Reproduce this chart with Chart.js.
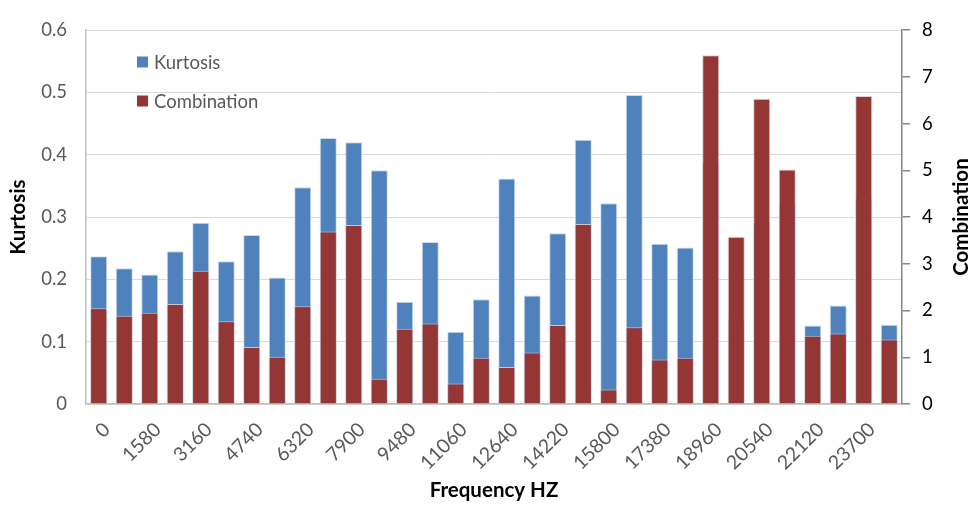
<!DOCTYPE html>
<html>
<head>
<meta charset="utf-8">
<script src="https://cdn.jsdelivr.net/npm/chart.js@4"></script>
<style>
  html, body { margin: 0; padding: 0; background: #fff; }
  #wrap { width: 976px; height: 505px; position: relative; }
</style>
</head>
<body>
<div id="wrap"><canvas id="c" width="976" height="505"></canvas></div>
<script>
// Frequency bins (Hz), 790 Hz apart
const frequencies = [0, 790, 1580, 2370, 3160, 3950, 4740, 5530, 6320, 7110, 7900, 8690,
  9480, 10270, 11060, 11850, 12640, 13430, 14220, 15010, 15800, 16590, 17380, 18170,
  18960, 19750, 20540, 21330, 22120, 22910, 23700, 24490];

// Kurtosis per bin (left axis)
const kurtosis = [0.237, 0.218, 0.208, 0.245, 0.291, 0.229, 0.271, 0.203, 0.348, 0.427, 0.420, 0.375,
  0.164, 0.260, 0.116, 0.168, 0.362, 0.174, 0.274, 0.424, 0.322, 0.496, 0.257, 0.251,
  0.388, 0.135, 0.290, 0.320, 0.126, 0.158, 0.330, 0.127];

// Combination measure per bin (right axis)
const combination = [2.05, 1.89, 1.95, 2.14, 2.85, 1.77, 1.22, 1.01, 2.09, 3.69, 3.83, 0.54,
  1.61, 1.72, 0.44, 0.99, 0.79, 1.10, 1.69, 3.85, 0.31, 1.64, 0.95, 0.99,
  7.46, 3.58, 6.53, 5.02, 1.46, 1.51, 6.59, 1.38];

const kurtosisTicks = [0, 0.1, 0.2, 0.3, 0.4, 0.5, 0.6];
const combinationTicks = [0, 1, 2, 3, 4, 5, 6, 7, 8];

const BLUE = '#4f81bd';
const RED = '#943634';
const FONT = 'Lato, "Open Sans", sans-serif';

// Legend inside the plot area (upper left) and the right-hand axis title,
// which reads bottom-to-top like the left one
const extras = {
  id: 'extras',
  afterDraw(chart) {
    const ctx = chart.ctx;
    const items = [
      { text: 'Kurtosis', color: BLUE, y: 62 },
      { text: 'Combination', color: RED, y: 101 }
    ];
    ctx.save();
    ctx.font = '18.5px ' + FONT;
    ctx.textBaseline = 'middle';
    ctx.textAlign = 'left';
    items.forEach(it => {
      ctx.fillStyle = it.color;
      ctx.fillRect(137, it.y - 5.5, 11, 11);
      ctx.fillStyle = '#595959';
      ctx.fillText(it.text, 154, it.y + 1);
    });
    const area = chart.chartArea;
    ctx.translate(961, (area.top + area.bottom) / 2);
    ctx.rotate(-Math.PI / 2);
    ctx.textAlign = 'center';
    ctx.fillStyle = '#000';
    ctx.font = 'bold 20.5px ' + FONT;
    ctx.fillText('Combination', 0, 0);
    ctx.restore();
  }
};

new Chart(document.getElementById('c'), {
  type: 'bar',
  data: {
    labels: frequencies.map(String),
    datasets: [
      {
        label: 'Kurtosis',
        data: kurtosis,
        yAxisID: 'y',
        backgroundColor: BLUE,
        borderColor: 'rgba(200,215,235,0.9)',
        borderWidth: 1,
        order: 2,
        grouped: false,
        barPercentage: 0.67,
        categoryPercentage: 1.0
      },
      {
        label: 'Combination',
        data: combination,
        yAxisID: 'y2',
        backgroundColor: RED,
        borderColor: 'rgba(215,205,210,0.9)',
        borderWidth: 1,
        order: 1,
        grouped: false,
        barPercentage: 0.67,
        categoryPercentage: 1.0
      }
    ]
  },
  options: {
    responsive: false,
    animation: false,
    devicePixelRatio: 1,
    layout: { padding: { top: 22, left: 0, right: 0, bottom: 0 } },
    plugins: {
      legend: { display: false },
      tooltip: { enabled: false }
    },
    scales: {
      x: {
        grid: { display: false, drawTicks: false },
        border: { display: true, color: '#bfbfbf', width: 1.5 },
        ticks: {
          autoSkip: false,
          minRotation: 45,
          maxRotation: 45,
          padding: 14,
          labelOffset: 8,
          color: '#595959',
          font: { family: FONT, size: 19.5 },
          callback: function (v, i) { return i % 2 === 0 ? this.getLabelForValue(v) : ''; }
        },
        title: {
          display: true,
          text: 'Frequency HZ',
          color: '#000',
          font: { family: FONT, size: 20.5, weight: 'bold' },
          padding: { top: 2, bottom: 2 }
        },
        afterFit: s => { s.height = 101; }
      },
      y: {
        position: 'left',
        min: 0,
        max: 0.6,
        afterBuildTicks: s => { s.ticks = kurtosisTicks.map(v => ({ value: v })); },
        grid: { color: '#d9d9d9', lineWidth: 1, drawTicks: false },
        border: { display: true, color: '#bfbfbf', width: 1.5 },
        ticks: {
          padding: 19,
          color: '#595959',
          font: { family: FONT, size: 18.5 },
          callback: v => String(Math.round(v * 10) / 10)
        },
        title: {
          display: true,
          text: 'Kurtosis',
          color: '#000',
          font: { family: FONT, size: 20.5, weight: 'bold' },
          padding: { top: 6, bottom: 0 }
        },
        afterFit: s => { s.width = 86; }
      },
      y2: {
        position: 'right',
        min: 0,
        max: 8,
        afterBuildTicks: s => { s.ticks = combinationTicks.map(v => ({ value: v })); },
        grid: { drawOnChartArea: false, drawTicks: true, tickLength: 8, color: '#868686', lineWidth: 1.5 },
        border: { display: true, color: '#868686', width: 1.5 },
        ticks: {
          padding: 12,
          color: '#000',
          font: { family: FONT, size: 18.5 }
        },
        afterFit: s => { s.width = 74; }
      }
    }
  },
  plugins: [extras]
});
</script>
</body>
</html>
